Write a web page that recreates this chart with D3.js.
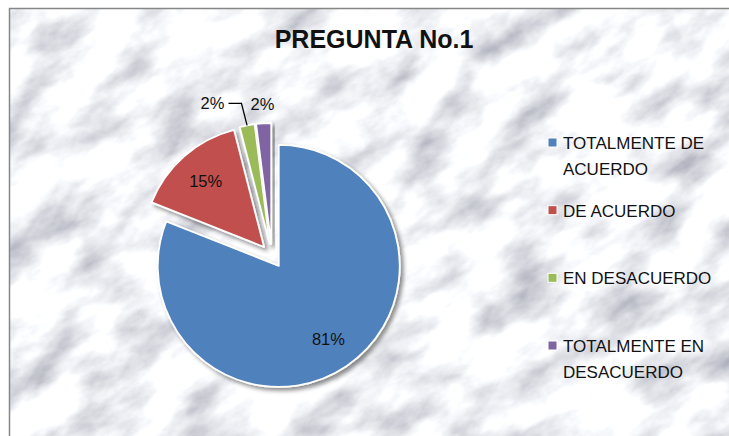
<!DOCTYPE html>
<html>
<head>
<meta charset="utf-8">
<script src="https://cdn.jsdelivr.net/npm/d3@7"></script>
<style>
  body { margin: 0; background: #fff; }
  svg { display: block; }
  text { font-family: "Liberation Sans", Arial, sans-serif; fill: #111; }
</style>
</head>
<body>
<div id="chart"></div>
<script>
// data
const categories = ["TOTALMENTE DE ACUERDO", "DE ACUERDO", "EN DESACUERDO", "TOTALMENTE EN DESACUERDO"];
const legendLines = [["TOTALMENTE DE", "ACUERDO"], ["DE ACUERDO"], ["EN DESACUERDO"], ["TOTALMENTE EN", "DESACUERDO"]];
const values = [81, 15, 2, 2];
const colors = ["#4F81BD", "#C0504D", "#9BBB59", "#8064A2"];
const title = "PREGUNTA No.1";

const width = 729, height = 436;
const cx = 272, cy = 256, radius = 121, explode = 12;

const svg = d3.select("#chart").append("svg")
    .attr("width", width)
    .attr("height", height);

const defs = svg.append("defs");

// marble texture
const marble = defs.append("filter")
    .attr("id", "marble")
    .attr("filterUnits", "userSpaceOnUse")
    .attr("x", -300).attr("y", -300).attr("width", 1400).attr("height", 1100);
marble.append("feTurbulence")
    .attr("type", "fractalNoise")
    .attr("baseFrequency", "0.014 0.026")
    .attr("numOctaves", 5)
    .attr("seed", 11);
marble.append("feColorMatrix")
    .attr("type", "matrix")
    .attr("values", "-1.25 0 0 0 1.53  -1.25 0 0 0 1.54  -1.15 0 0 0 1.52  0 0 0 0 1");

const shadow = defs.append("filter")
    .attr("id", "shadow")
    .attr("x", -0.2).attr("y", -0.2).attr("width", 1.4).attr("height", 1.4);
shadow.append("feDropShadow")
    .attr("dx", 3).attr("dy", 3)
    .attr("stdDeviation", 2.2)
    .attr("flood-color", "#000")
    .attr("flood-opacity", 0.45);

// background
svg.append("g")
    .attr("transform", "rotate(-32 370 220)")
    .append("rect")
    .attr("x", -300).attr("y", -300)
    .attr("width", 1400).attr("height", 1100)
    .attr("filter", "url(#marble)");

svg.append("path")
    .attr("d", "M0,0H729V8.5H9.5V436H0Z")
    .attr("fill", "#fff");
svg.append("path")
    .attr("d", "M9.5,436V8.5H729")
    .attr("fill", "none")
    .attr("stroke", "#868686")
    .attr("stroke-width", 1.5);

// title
svg.append("text")
    .attr("x", 374).attr("y", 48)
    .attr("text-anchor", "middle")
    .style("font-size", "25px")
    .style("font-weight", "bold")
    .text(title);

// pie
const pie = d3.pie().sort(null).value(d => d)(values);
const arc = d3.arc().innerRadius(0).outerRadius(radius);
const mid = d => (d.startAngle + d.endAngle) / 2;
const offset = (d, r) => [Math.sin(mid(d)) * r, -Math.cos(mid(d)) * r];

const slices = svg.append("g")
    .attr("transform", `translate(${cx},${cy})`);

slices.selectAll("path")
    .data(pie)
    .enter().append("path")
    .attr("transform", d => `translate(${offset(d, explode)})`)
    .attr("d", arc)
    .attr("fill", (d, i) => colors[i])
    .attr("stroke", "#fff")
    .attr("stroke-width", 1.8)
    .attr("stroke-linejoin", "round")
    .attr("filter", "url(#shadow)");

// labels
const labelFont = "16.5px";
pie.forEach((d, i) => {
    let pos, anchor = "middle";
    if (d.data >= 10) {
        pos = offset(d, explode + radius * 0.73);
    } else {
        pos = offset(d, explode + radius * 1.16);
    }
    const lx = pos[0], ly = pos[1];
    if (i === 2) {
        // pulled to the left with a leader line
        const shifted = lx - 31;
        const edge = offset(d, explode + radius);
        slices.append("path")
            .attr("d", `M${shifted + 16},${ly - 3}H${shifted + 29}L${edge[0]},${edge[1]}`)
            .attr("fill", "none")
            .attr("stroke", "#000")
            .attr("stroke-width", 1.3);
        slices.append("text")
            .attr("x", shifted).attr("y", ly + 3)
            .attr("text-anchor", anchor)
            .style("font-size", labelFont)
            .text(d.data + "%");
    } else {
        slices.append("text")
            .attr("x", lx).attr("y", ly + 6)
            .attr("text-anchor", anchor)
            .style("font-size", labelFont)
            .text(d.data + "%");
    }
});

// legend
const legend = svg.append("g")
    .attr("transform", "translate(548,149)");
const legendY = d3.scaleLinear().domain([0, 3]).range([0, 203]);

const item = legend.selectAll("g")
    .data(categories)
    .enter().append("g")
    .attr("transform", (d, i) => `translate(0,${legendY(i)})`);

item.append("rect")
    .attr("x", 0).attr("y", -11)
    .attr("width", 9).attr("height", 9)
    .attr("fill", (d, i) => colors[i])
    .attr("stroke", "#fff")
    .attr("stroke-width", 1);

item.append("text")
    .style("font-size", "17px")
    .selectAll("tspan")
    .data((d, i) => legendLines[i])
    .enter().append("tspan")
    .attr("x", 15)
    .attr("y", (d, j) => j * 26)
    .text(d => d);
</script>
</body>
</html>
